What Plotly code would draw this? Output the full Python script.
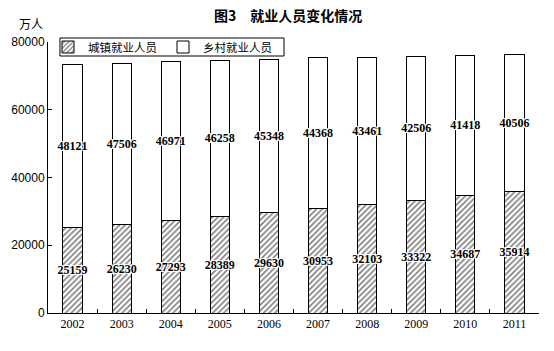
import plotly.graph_objects as go

years = ["2002", "2003", "2004", "2005", "2006", "2007", "2008", "2009", "2010", "2011"]
urban = [25159, 26230, 27293, 28389, 29630, 30953, 32103, 33322, 34687, 35914]
rural = [48121, 47506, 46971, 46258, 45348, 44368, 43461, 42506, 41418, 40506]
y_ticks = [0, 20000, 40000, 60000, 80000]

num_font = "Liberation Serif, DejaVu Serif, serif"
cjk_font = "Noto Sans CJK SC, sans-serif"
halo = "1px 1px 0 white, -1px -1px 0 white, 1px -1px 0 white, -1px 1px 0 white, 0 0 2px white"

fig = go.Figure()
fig.add_trace(go.Bar(
    x=years, y=urban, name="城镇就业人员",
    text=[str(v) for v in urban], textposition="inside", insidetextanchor="middle",
    textangle=0, constraintext="none",
    textfont=dict(family=num_font, size=12, color="black", weight="bold", shadow=halo),
    marker=dict(color="white", line=dict(color="black", width=1),
                pattern=dict(shape="/", fgcolor="black", bgcolor="white", size=4, solidity=0.4)),
))
fig.add_trace(go.Bar(
    x=years, y=rural, name="乡村就业人员",
    text=[str(v) for v in rural], textposition="inside", insidetextanchor="middle",
    textangle=0, constraintext="none",
    textfont=dict(family=num_font, size=12, color="black", weight="bold", shadow=halo),
    marker=dict(color="white", line=dict(color="black", width=1)),
))

fig.update_layout(
    barmode="stack", bargap=0.61,
    width=554, height=351,
    margin=dict(l=48, r=15, t=42, b=38),
    paper_bgcolor="white", plot_bgcolor="white",
    title=dict(text="<b>图3　就业人员变化情况</b>", x=0.52, xanchor="center", y=0.955, yanchor="middle",
               font=dict(family=cjk_font, size=14, color="black")),
    legend=dict(orientation="h", x=0.0, y=0.9815, xanchor="left", yanchor="middle",
                borderwidth=0, bgcolor="rgba(0,0,0,0)",
                font=dict(family=cjk_font, size=11.5, color="black"),
                itemwidth=30, traceorder="normal", entrywidth=70),
    xaxis=dict(type="category", showline=True, linecolor="black", linewidth=1,
               ticks="inside", ticklen=4, tickcolor="black", tickson="boundaries",
               tickfont=dict(family=num_font, size=12, color="black"), showgrid=False),
    yaxis=dict(range=[0, 80000], tickvals=y_ticks, ticktext=[str(v) for v in y_ticks],
               showline=True, linecolor="black", linewidth=1,
               ticks="inside", ticklen=4, tickcolor="black", showgrid=False, zeroline=False,
               tickfont=dict(family="Liberation Sans, Arial, sans-serif", size=12, color="black")),
    showlegend=True,
)
# legend frame
fig.add_shape(type="rect", xref="paper", yref="paper", x0=0.0244, x1=0.4807, y0=0.9483, y1=1.0148,
              line=dict(color="black", width=1), fillcolor="white", layer="above")
fig.add_annotation(text="万人", xref="paper", yref="paper", x=-0.035, y=1.03,
                   xanchor="center", yanchor="bottom", showarrow=False,
                   font=dict(family=cjk_font, size=12, color="black"))

fig.write_html("out.html")
